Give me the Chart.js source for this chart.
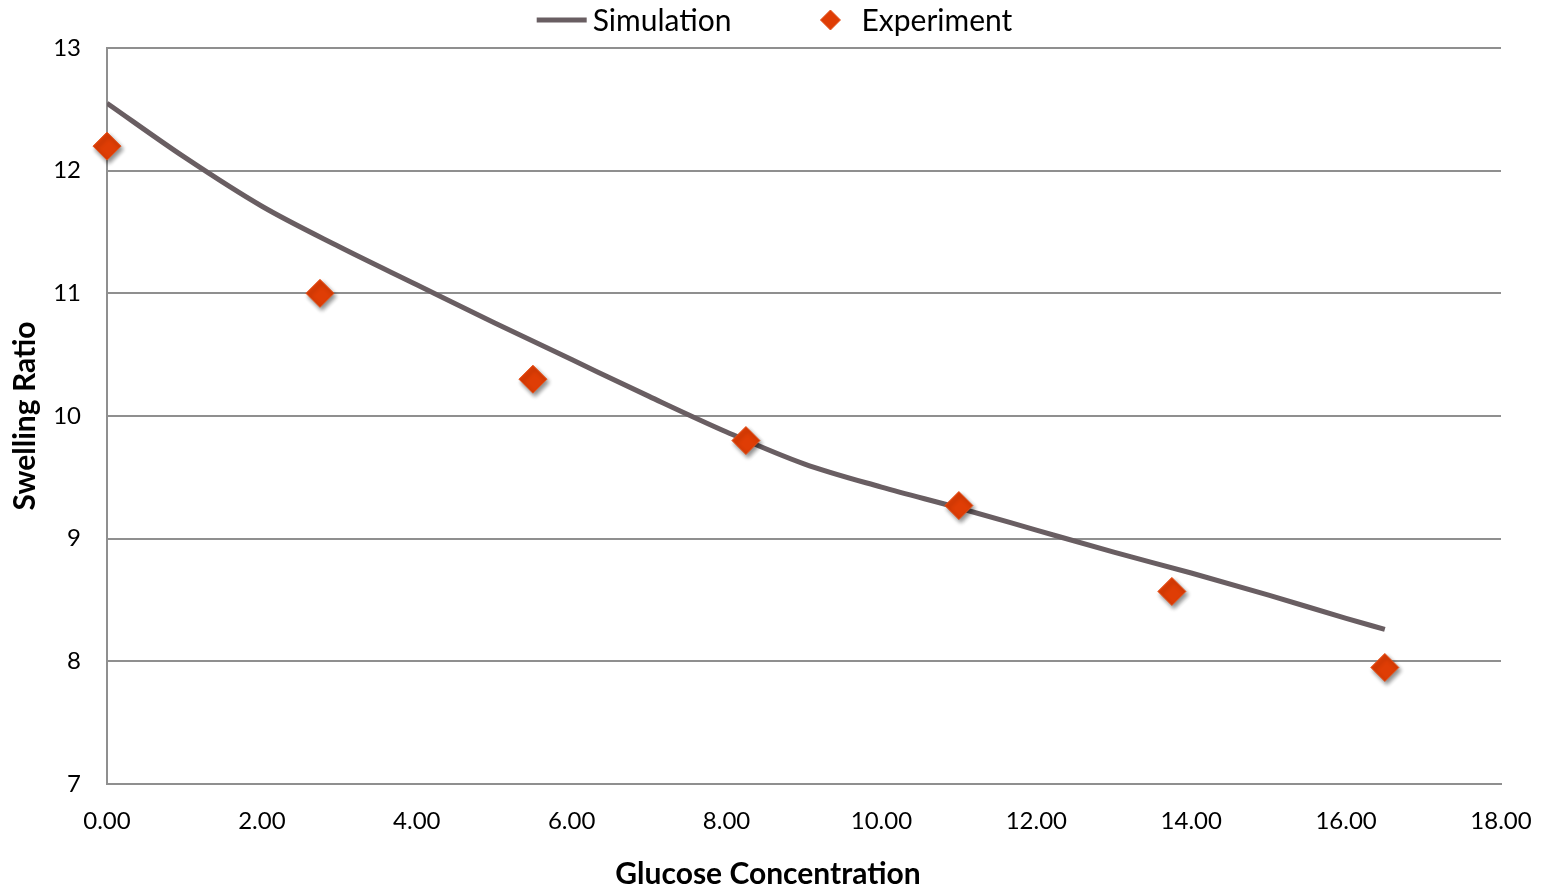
<!DOCTYPE html>
<html>
<head>
<meta charset="utf-8">
<script src="https://cdn.jsdelivr.net/npm/chart.js@4.4.1/dist/chart.umd.min.js"></script>
<style>
    html, body { margin: 0; padding: 0; background: #fff; }
    #wrap { width: 1543px; height: 889px; }
</style>
</head>
<body>
<div id="wrap"><canvas id="swelling-chart"></canvas></div>
<script>
// simulation curve
const simX = [0, 1, 2, 3, 4, 5, 6, 7, 8, 9, 10, 11, 12, 13, 14, 15, 16, 16.5];
const simY = [12.55, 12.11, 11.71, 11.38, 11.07, 10.76, 10.46, 10.16, 9.87, 9.61, 9.42, 9.25, 9.07, 8.89, 8.72, 8.54, 8.35, 8.26];

// experiment points
const expX = [0, 2.75, 5.5, 8.25, 11, 13.75, 16.5];
const expY = [12.2, 11.0, 10.3, 9.8, 9.27, 8.57, 7.95];

const xTicks = [0, 2, 4, 6, 8, 10, 12, 14, 16, 18];
const yTicks = [7, 8, 9, 10, 11, 12, 13];

const FONT = "Lato, 'Open Sans', sans-serif";
const GRID = '#8f8f8f';

const toPoints = function (xs, ys) {
    let pts = [];
    for (let i = 0; i < xs.length; i++) {
        pts.push({x: xs[i], y: ys[i]});
    }
    return pts;
};

// soft drop shadow under the diamonds
const markerShadow = {
    id: 'markerShadow',
    beforeDatasetDraw: function (chart, args) {
        if (args.meta.type !== 'scatter') return;
        const ctx = chart.ctx;
        ctx.save();
        ctx.shadowColor = 'rgba(0,0,0,0.45)';
        ctx.shadowBlur = 4;
        ctx.shadowOffsetX = 2;
        ctx.shadowOffsetY = 3;
    },
    afterDatasetDraw: function (chart, args) {
        if (args.meta.type !== 'scatter') return;
        chart.ctx.restore();
    }
};

// legend row across the top, built from the datasets
const topLegend = {
    id: 'topLegend',
    afterDraw: function (chart) {
        const ctx = chart.ctx;
        const sets = chart.data.datasets;
        const sample = 50, gap = 6, spacing = 74;
        const y = 20;

        ctx.save();
        ctx.font = '30px ' + FONT;
        ctx.textBaseline = 'middle';
        ctx.textAlign = 'left';

        let widths = sets.map(function (ds) {
            return sample + gap + ctx.measureText(ds.label).width;
        });
        let total = widths.reduce(function (a, b) { return a + b; }, 0) + spacing * (sets.length - 1);
        let x = chart.width / 2 - total / 2 + 3;

        sets.forEach(function (ds, i) {
            if (ds.pointStyle === 'line') {
                ctx.strokeStyle = ds.borderColor;
                ctx.lineWidth = ds.borderWidth;
                ctx.beginPath();
                ctx.moveTo(x, y);
                ctx.lineTo(x + sample, y);
                ctx.stroke();
            } else {
                ctx.fillStyle = ds.backgroundColor;
                ctx.strokeStyle = ds.borderColor;
                ctx.lineWidth = ds.borderWidth;
                Chart.helpers.drawPoint(ctx, {pointStyle: ds.pointStyle, radius: 10, borderWidth: ds.borderWidth}, x + sample / 2, y);
            }
            ctx.fillStyle = '#000';
            ctx.fillText(ds.label, x + sample + gap, y + 1);
            x += widths[i] + spacing;
        });
        ctx.restore();
    }
};

const DATA = {
    datasets: [{
        type: 'line',
        label: 'Simulation',
        data: toPoints(simX, simY),
        borderColor: '#695e62',
        backgroundColor: '#695e62',
        borderWidth: 5,
        pointRadius: 0,
        pointStyle: 'line',
        cubicInterpolationMode: 'monotone',
        order: 2
    }, {
        type: 'scatter',
        label: 'Experiment',
        data: toPoints(expX, expY),
        backgroundColor: '#df3d05',
        borderColor: '#e4531d',
        borderWidth: 1,
        pointStyle: 'rectRot',
        pointRadius: 14,
        clip: false,
        order: 1
    }]
};

const CONFIG = {
    type: 'scatter',
    data: DATA,
    options: {
        responsive: true,
        maintainAspectRatio: false,
        animation: false,
        layout: { padding: { left: 35, right: 42, top: 48, bottom: 0 } },
        plugins: {
            tooltip: { enabled: false },
            legend: { display: false },
            title: {
                display: true,
                position: 'bottom',
                text: 'Glucose Concentration',
                color: '#000',
                padding: { top: 0, bottom: -3 },
                font: { family: FONT, size: 30, weight: 'bold' }
            }
        },
        scales: {
            x: {
                type: 'linear',
                min: 0,
                max: 18,
                afterBuildTicks: function (scale) {
                    scale.ticks = xTicks.map(function (v) { return {value: v}; });
                },
                afterFit: function (scale) {
                    scale.height = 72;
                    scale.paddingLeft = 0;
                    scale.paddingRight = 0;
                },
                grid: { display: false, drawTicks: false },
                border: { display: true, color: GRID, width: 2 },
                ticks: {
                    padding: 23,
                    color: '#000',
                    maxRotation: 0,
                    font: { family: FONT, size: 24 },
                    callback: function (v) { return Number(v).toFixed(2); }
                }
            },
            y: {
                type: 'linear',
                min: 7,
                max: 13,
                afterBuildTicks: function (scale) {
                    scale.ticks = yTicks.map(function (v) { return {value: v}; });
                },
                afterFit: function (scale) { scale.width = 72; },
                grid: { color: GRID, lineWidth: 2, drawTicks: false },
                border: { display: true, color: GRID, width: 2 },
                ticks: {
                    padding: 26,
                    color: '#000',
                    font: { family: FONT, size: 24 }
                },
                title: {
                    display: true,
                    text: 'Swelling Ratio',
                    color: '#000',
                    padding: { top: -28, bottom: 0 },
                    font: { family: FONT, size: 30, weight: 'bold' }
                }
            }
        }
    },
    plugins: [markerShadow, topLegend]
};

const swellingChart = new Chart(
    document.querySelector('#swelling-chart'),
    CONFIG
);
</script>
</body>
</html>
